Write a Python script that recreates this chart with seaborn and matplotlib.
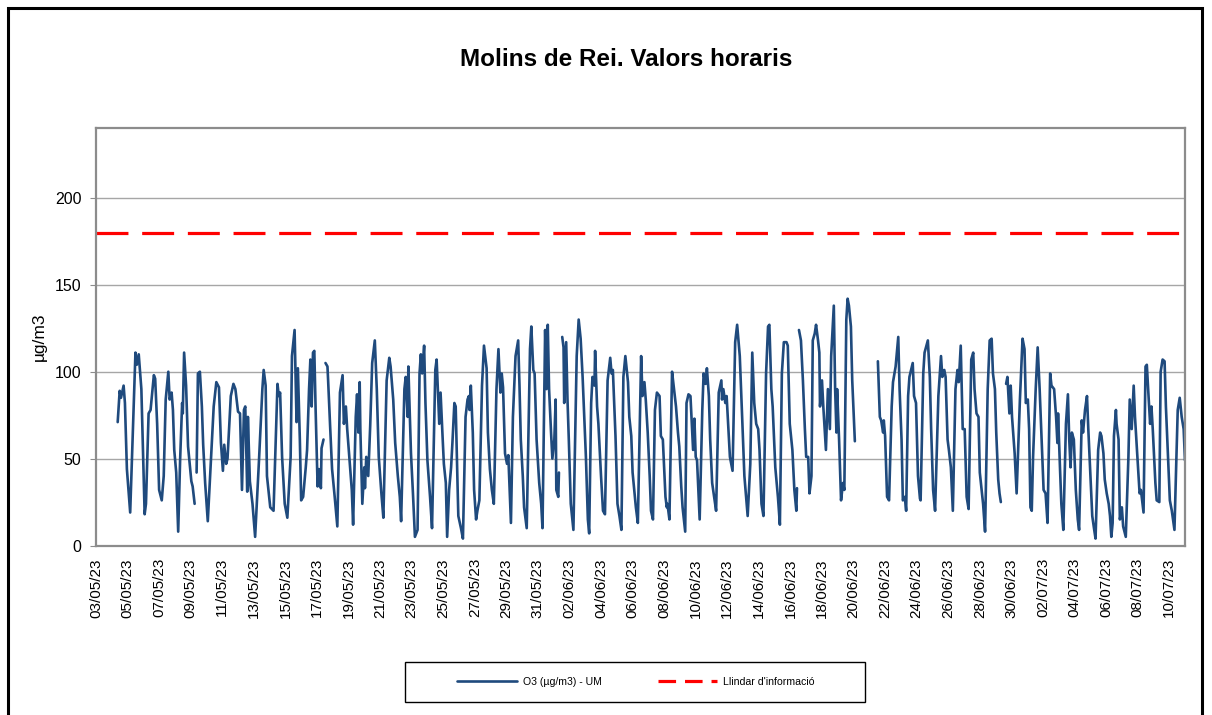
import numpy as np
import pandas as pd
import matplotlib
matplotlib.use("Agg")
import matplotlib.pyplot as plt
import matplotlib.dates as mdates
from matplotlib.lines import Line2D
from matplotlib.patches import Rectangle
import seaborn as sns

# --- data ---------------------------------------------------------------
inici = "2023-05-03"
fi = "2023-07-11"
titol = "Molins de Rei. Valors horaris"
unitats = "µg/m3"
serie_o3 = "O3 (µg/m3) - UM"
serie_llindar = "Llindar d'informació"
llindar = 180

# hours since 03/05/23 00:00 and O3 value (None = no data)
hora = [
    33, 36, 38, 42, 44, 47, 52, 60, 62, 65, 69, 74, 76, 80, 83, 88, 90, 93, 96, 100,
    103, 106, 110, 112, 115, 117, 119, 122, 125, 128, 131, 132, 134, 137, 140, 145, 147, 150,
    151,
    153, 155, 158, 161, 163, 166, 170, 179, 183, 187, 190, 193, 195, 198, 200, 205, 209, 212,
    216, 219, 222, 225, 227, 230, 231, 234, 238, 242, 248, 253, 255, 258, 260, 265, 270, 276,
    278, 280, 283, 287, 291, 296, 298, 302, 305, 307, 310, 312, 315, 319, 321, 324, 326, 328,
    330, 332, 334, 337, 339, 342, 343, 346,
    347,
    349, 352, 353, 356, 359, 363, 367, 371, 375, 377, 380, 382, 386, 389, 391, 395, 397, 399,
    401, 402, 405, 408, 409, 411, 414, 417, 420, 424, 427, 430, 434, 437, 442, 446, 448, 452,
    455, 459, 462, 464, 469, 471, 474, 475, 479, 482, 485, 489, 492, 494, 496, 499, 501, 504,
    508, 511, 516, 518, 522, 524, 527, 529, 532, 534, 537, 540, 542, 545, 547, 550, 551, 555,
    558, 562, 565, 567, 568, 570, 573, 575, 578, 580, 583, 587, 590, 594, 596, 599, 602, 605,
    609, 612, 615, 617, 619, 622, 625, 627, 631, 634, 638, 642, 644, 646, 649, 651, 655, 660,
    662, 665, 667, 670, 674, 677, 679, 683, 685, 687, 689, 692, 694, 697, 699, 700, 703, 704,
    706,
    709, 711, 712, 715, 717, 719, 722, 726, 731, 734, 737, 740, 745, 748, 750, 753, 755, 758,
    759, 762, 764, 768, 771, 774, 778, 782, 784, 786, 790, 793, 796, 799, 802, 805, 809, 811,
    814, 816, 821, 824, 829, 831, 834, 836, 839, 842, 844, 847, 850, 853, 857, 859, 862, 866,
    868, 869, 872, 876, 879, 882, 885, 887, 890, 892, 896, 898, 901, 904, 908, 910, 912, 914,
    918, 922, 924, 927, 929, 932, 934, 937, 940, 943, 947, 951, 952, 954, 957, 959, 962, 964,
    968, 972, 975, 979, 983, 986, 991, 995, 998, 1001, 1004, 1007, 1009, 1012, 1015, 1019,
    1022, 1024, 1027, 1029, 1033, 1037, 1040, 1043, 1046, 1050, 1052, 1055, 1059, 1062, 1065,
    1066,
    1067,
    1069, 1072, 1075, 1078, 1080, 1083, 1085, 1088, 1090, 1093, 1095, 1098, 1100, 1101, 1104,
    1106, 1110, 1113, 1116, 1118, 1122, 1124, 1126, 1127, 1130, 1133, 1136, 1138, 1141, 1143,
    1145, 1148, 1150, 1154,
    1155,
    1189, 1192, 1194, 1197, 1198, 1200, 1203, 1206, 1210, 1212, 1216, 1220, 1222, 1225, 1227,
    1230, 1232, 1235, 1237, 1242, 1244, 1247, 1250, 1253, 1254, 1258, 1260, 1265, 1268, 1270,
    1273, 1276, 1281, 1285, 1287, 1290, 1292, 1295, 1297, 1300, 1303, 1307, 1310, 1312, 1315,
    1318, 1321, 1324, 1327, 1331, 1334, 1336, 1339, 1342, 1344, 1349, 1352, 1356, 1359, 1362,
    1364, 1367, 1369, 1372, 1374, 1376,
    1378,
    1384, 1386, 1389, 1391, 1393, 1397, 1400, 1405, 1409, 1412, 1414, 1417, 1419, 1421, 1423,
    1425, 1429, 1432, 1435, 1438, 1441, 1444, 1447, 1451, 1453, 1457, 1460, 1462, 1463, 1466,
    1468, 1471, 1475, 1478, 1480, 1482, 1484, 1487, 1490, 1493, 1495, 1499, 1501, 1504, 1507,
    1509, 1512, 1515, 1518, 1520, 1524, 1527, 1529, 1532, 1534, 1537, 1540, 1542, 1544, 1546,
    1548, 1551, 1552, 1555, 1557, 1560, 1562, 1566, 1570, 1572, 1575, 1578, 1580, 1583, 1587,
    1589, 1593, 1596, 1598, 1600, 1603, 1605, 1607, 1611, 1613, 1617, 1619, 1622, 1625, 1627,
    1631, 1633, 1636, 1640, 1643, 1645, 1648, 1651, 1654, 1656,
]
o3 = [
    71, 89, 85, 92, 82, 44, 19, 111, 104, 110, 90, 18, 24, 76, 78, 98, 96, 70, 32, 26,
    40, 84, 100, 84, 88, 78, 55, 42, 8, 50, 82, 76, 111, 92, 57, 37, 34, 24,
    None,
    42, 99, 100, 80, 58, 36, 14, 80, 94, 91, 59, 43, 58, 47, 50, 86, 93, 90,
    77, 76, 32, 78, 80, 31, 74, 37, 24, 5, 50, 90, 101, 92, 40, 22, 20, 93,
    86, 88, 51, 24, 16, 51, 109, 124, 71, 102, 61, 26, 28, 45, 55, 90, 107, 80,
    111, 112, 78, 34, 44, 33, 56, 61,
    None,
    105, 103, 95, 69, 44, 28, 11, 88, 98, 70, 80, 67, 47, 32, 12, 74, 87, 65,
    94, 67, 24, 45, 33, 51, 40, 69, 105, 118, 90, 51, 30, 16, 95, 108, 103, 84,
    59, 40, 28, 14, 90, 97, 74, 103, 53, 30, 5, 9, 99, 110, 99, 115, 82, 49,
    28, 10, 101, 107, 70, 88, 63, 47, 36, 5, 32, 45, 59, 82, 80, 32, 17, 10,
    4, 74, 84, 86, 78, 92, 65, 32, 15, 20, 26, 92, 115, 102, 65, 44, 32, 24,
    90, 113, 88, 99, 91, 53, 47, 52, 13, 74, 109, 118, 92, 61, 40, 22, 10, 113,
    126, 101, 99, 61, 36, 24, 10, 124, 90, 127, 90, 65, 50, 61, 84, 32, 28, 42,
    None,
    120, 114, 82, 117, 84, 61, 24, 9, 109, 130, 119, 97, 51, 15, 7, 82, 97, 92,
    112, 80, 70, 40, 20, 18, 95, 108, 99, 101, 63, 24, 17, 9, 97, 109, 94, 74,
    63, 42, 22, 13, 109, 86, 94, 84, 65, 40, 20, 15, 78, 88, 86, 63, 61, 28,
    22, 24, 15, 100, 90, 80, 65, 57, 34, 22, 8, 82, 87, 86, 55, 73, 51, 49,
    15, 78, 99, 93, 102, 86, 61, 36, 28, 20, 88, 95, 84, 90, 82, 86, 65, 51,
    43, 117, 127, 109, 70, 40, 17, 47, 111, 82, 70, 67, 55, 24, 17, 99,
    126, 127, 90, 80, 45, 28, 12, 99, 117, 117, 115, 70, 55, 32, 20,
    33,
    None,
    124, 118, 95, 67, 51, 51, 30, 40, 118, 122, 127, 118, 111, 80, 95,
    80, 55, 90, 67, 109, 138, 90, 65, 90, 61, 26, 36, 32, 130, 142,
    138, 126, 95, 60,
    None,
    106, 74, 72, 65, 72, 63, 28, 26, 80, 94, 103, 120, 90, 61, 26,
    28, 20, 86, 97, 105, 86, 82, 40, 27, 26, 99, 111, 118, 97, 67,
    32, 20, 86, 109, 97, 101, 97, 61, 55, 45, 20, 90, 101, 94, 115,
    67, 67, 28, 21, 107, 111, 90, 76, 74, 42, 24, 8, 90, 118, 119,
    99, 90, 65, 38, 30, 25,
    None,
    93, 97, 76, 92, 74, 53, 30, 84, 119, 113, 82, 84, 67, 22, 20,
    51, 90, 114, 90, 61, 32, 30, 13, 99, 92, 90, 74, 59, 76, 44,
    24, 9, 70, 87, 61, 45, 65, 61, 32, 15, 9, 72, 65, 78, 86,
    67, 42, 17, 9, 4, 55, 65, 63, 53, 38, 30, 24, 17, 5, 13,
    63, 78, 70, 61, 15, 22, 11, 5, 51, 84, 67, 92, 74, 55, 30,
    32, 19, 103, 104, 90, 70, 80, 67, 36, 26, 25, 100, 107, 106, 80,
    44, 26, 20, 9, 51, 78, 85, 74, 67, 49,
]

# --- table ------------------------------------------------------------------
df = pd.DataFrame({"hora": hora, "o3": o3})
df["o3"] = pd.to_numeric(df["o3"])
df["data"] = pd.Timestamp(inici) + pd.to_timedelta(df["hora"], unit="h")
df["tram"] = df["o3"].isna().cumsum()   # break the line where data is missing
df = df.dropna(subset=["o3"])

# --- style ----------------------------------------------------------------
sns.set_style("white")
plt.rcParams["font.family"] = ["Liberation Sans", "DejaVu Sans"]
plt.rcParams["text.color"] = "black"
plt.rcParams["xtick.labelcolor"] = "black"
plt.rcParams["ytick.labelcolor"] = "black"

blau = "#1F4A7D"
vermell = "#FF0000"
gris = "#8C8C8C"

fig = plt.figure(figsize=(12.12, 7.15), dpi=100)
ax = fig.add_axes([0.0792, 0.237, 0.8985, 0.5835])

sns.lineplot(data=df, x="data", y="o3", units="tram", estimator=None,
             sort=False, color=blau, linewidth=1.9, ax=ax)
ax.axhline(llindar, color=vermell, linewidth=2.3, dashes=(10, 4.3))

ax.set_ylim(0, 240)
ax.set_yticks([0, 50, 100, 150, 200])
ax.set_xlim(pd.Timestamp(inici), pd.Timestamp(fi))
ax.set_xticks(pd.date_range(inici, "2023-07-10", freq="2D"))
ax.xaxis.set_major_formatter(mdates.DateFormatter("%d/%m/%y"))
ax.tick_params(axis="x", rotation=90, length=0, pad=9, labelsize=11,
               labelcolor="black")
ax.tick_params(axis="y", length=4.5, pad=6, labelsize=11.5, color=gris,
               left=True, labelcolor="black")
ax.set_xlabel("")
ax.set_ylabel("")

ax.yaxis.grid(True, color="#A6A6A6", linewidth=1.0)
ax.xaxis.grid(False)
for s in ax.spines.values():
    s.set_color(gris)
    s.set_linewidth(1.6)

fig.text(626 / 1212, 1 - 60 / 715, titol, ha="center", va="center",
         fontsize=17.5, fontweight="bold", color="black")
fig.text(39 / 1212, 1 - 337 / 715, unitats, rotation=90, ha="center",
         va="center", fontsize=12.5, color="black")

# legend
handles = [Line2D([], [], color=blau, linewidth=1.9),
           Line2D([], [], color=vermell, linewidth=2.3, dashes=(5.5, 2.8))]
leg = fig.legend(handles, [serie_o3, serie_llindar], loc="center",
                 bbox_to_anchor=(636 / 1212, 1 - 682 / 715), ncol=2,
                 frameon=False, fontsize=7.6, handlelength=5.6,
                 handletextpad=0.6, columnspacing=5.3)
for t in leg.get_texts():
    t.set_color("black")
fig.patches.append(Rectangle((405 / 1212, 1 - 702 / 715), 460 / 1212, 40 / 715,
                             transform=fig.transFigure, fill=False,
                             edgecolor="black", linewidth=1.0))

# outer chart frame
fig.patches.append(Rectangle((8 / 1212, -0.02), 1194 / 1212, 1.0095,
                             transform=fig.transFigure, fill=False,
                             edgecolor="black", linewidth=2.2, clip_on=False))

fig.savefig("out.png", dpi=100)
